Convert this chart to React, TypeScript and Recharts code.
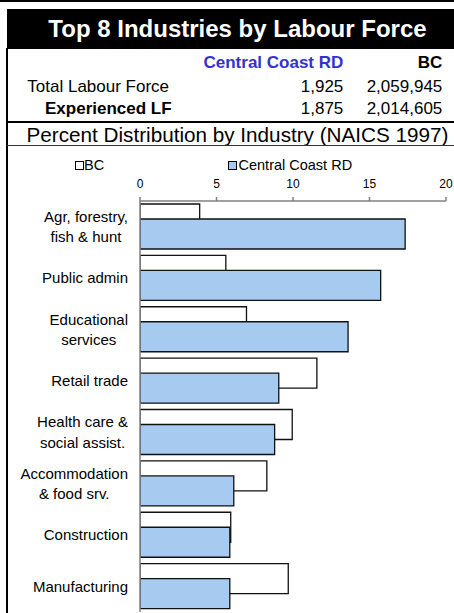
import React from "react";
import { BarChart, Bar, XAxis, YAxis } from "recharts";

const title = "Top 8 Industries by Labour Force";
const subtitle = "Percent Distribution by Industry (NAICS 1997)";
const regionNames = ["Central Coast RD", "BC"];
const rowLabels = ["Total Labour Force", "Experienced LF"];
const centralCoastTotals = ["1,925", "1,875"];
const bcTotals = ["2,059,945", "2,014,605"];

const categories = [
  "Agr, forestry,\nfish & hunt",
  "Public admin",
  "Educational\nservices",
  "Retail trade",
  "Health care &\nsocial assist.",
  "Accommodation\n& food srv.",
  "Construction",
  "Manufacturing",
];
const bcValues = [3.9, 5.61, 6.96, 11.56, 9.95, 8.29, 5.93, 9.69];
const centralCoastValues = [17.33, 15.73, 13.6, 9.07, 8.8, 6.13, 5.87, 5.87];
const xTicks = [0, 5, 10, 15, 20];

const data = categories.map((name, i) => ({
  name,
  bc: bcValues[i],
  cc: centralCoastValues[i],
}));

const FONT = "'Liberation Sans', Arial, Helvetica, sans-serif";
const BLUE = "#A6CAF0";

let measureCtx: CanvasRenderingContext2D | null = null;
function textWidth(t: string, size: number) {
  if (!measureCtx) {
    const c = document.createElement("canvas");
    measureCtx = c.getContext("2d");
  }
  if (!measureCtx) return t.length * size * 0.5;
  measureCtx.font = `${size}px ${FONT}`;
  return measureCtx.measureText(t).width;
}

const CategoryTick = (props: any) => {
  const { x, y, payload } = props;
  const lines = String(payload.value).split("\n");
  const size = 15;
  const lh = 20.5;
  const maxW = Math.max(...lines.map((l) => textWidth(l, size)));
  const cx = x - maxW / 2;
  const start = y - ((lines.length - 1) * lh) / 2;
  return (
    <g>
      {lines.map((l, i) => (
        <text
          key={i}
          x={cx}
          y={start + i * lh}
          dy="0.36em"
          textAnchor="middle"
          fontSize={size}
          fontFamily={FONT}
          fill="#000"
        >
          {l}
        </text>
      ))}
    </g>
  );
};

const abs = (s: React.CSSProperties): React.CSSProperties => ({
  position: "absolute",
  ...s,
});

export default function App() {
  return (
    <div
      style={abs({
        left: 0,
        top: 0,
        width: 454,
        height: 613,
        overflow: "hidden",
        background: "#fff",
        fontFamily: FONT,
        color: "#000",
      })}
    >
      {/* top rule */}
      <div style={abs({ left: 0, top: 0, width: 454, height: 1.5, background: "#000" })} />
      {/* title bar */}
      <div
        style={abs({
          left: 7,
          top: 8.5,
          width: 461,
          height: 40,
          background: "#000",
          color: "#fff",
          fontWeight: "bold",
          fontSize: 24,
          lineHeight: "40px",
          textAlign: "center",
          whiteSpace: "nowrap",
        })}
      >
        {title}
      </div>
      {/* frame left border */}
      <div style={abs({ left: 6, top: 48, width: 1.5, height: 565, background: "#000" })} />
      {/* header table */}
      <div
        style={abs({
          left: 0,
          top: 53,
          width: 343.3,
          textAlign: "right",
          fontSize: 17,
          lineHeight: "20px",
          fontWeight: "bold",
          color: "#3333CC",
          whiteSpace: "nowrap",
        })}
      >
        {regionNames[0]}
      </div>
      <div
        style={abs({
          left: 0,
          top: 53,
          width: 442.3,
          textAlign: "right",
          fontSize: 17,
          lineHeight: "20px",
          fontWeight: "bold",
          whiteSpace: "nowrap",
        })}
      >
        {regionNames[1]}
      </div>
      {rowLabels.map((lab, i) => (
        <React.Fragment key={lab}>
          <div
            style={abs({
              left: i === 0 ? 27.3 : 45,
              top: 76.5 + i * 22.7,
              fontSize: 17,
              lineHeight: "20px",
              fontWeight: i === 0 ? "normal" : "bold",
              whiteSpace: "nowrap",
            })}
          >
            {lab}
          </div>
          <div
            style={abs({
              left: 0,
              top: 76.5 + i * 22.7,
              width: 343.3,
              textAlign: "right",
              fontSize: 17,
              lineHeight: "20px",
              whiteSpace: "nowrap",
            })}
          >
            {centralCoastTotals[i]}
          </div>
          <div
            style={abs({
              left: 0,
              top: 76.5 + i * 22.7,
              width: 442.3,
              textAlign: "right",
              fontSize: 17,
              lineHeight: "20px",
              whiteSpace: "nowrap",
            })}
          >
            {bcTotals[i]}
          </div>
        </React.Fragment>
      ))}
      {/* rule */}
      <div style={abs({ left: 7, top: 121, width: 461, height: 2, background: "#000" })} />
      <div
        style={abs({
          left: 7,
          top: 124,
          width: 461,
          fontSize: 20.7,
          lineHeight: "22px",
          textAlign: "center",
          whiteSpace: "nowrap",
        })}
      >
        {subtitle}
      </div>
      <div style={abs({ left: 7, top: 145, width: 461, height: 1, background: "#333" })} />
      {/* legend */}
      <div
        style={abs({
          left: 74.5,
          top: 160.5,
          width: 7,
          height: 7,
          border: "1.3px solid #000",
          background: "#fff",
        })}
      />
      <div style={abs({ left: 84, top: 156, fontSize: 14.5, lineHeight: "18px", whiteSpace: "nowrap" })}>
        {regionNames[1]}
      </div>
      <div
        style={abs({
          left: 228,
          top: 160.5,
          width: 7,
          height: 7,
          border: "1.3px solid #000",
          background: BLUE,
        })}
      />
      <div style={abs({ left: 238.5, top: 156, fontSize: 14.5, lineHeight: "18px", whiteSpace: "nowrap" })}>
        {regionNames[0]}
      </div>
      {/* chart */}
      <div style={abs({ left: 0, top: 150 })}>
        <BarChart
          width={454}
          height={463}
          data={data}
          layout="vertical"
          margin={{ top: 0, right: 8, bottom: 1, left: 0 }}
          barSize={30}
          barGap={-15}
        >
          <XAxis
            type="number"
            orientation="top"
            domain={[0, 20]}
            ticks={xTicks}
            height={51}
            stroke="#808080"
            strokeWidth={1.5}
            tickSize={4}
            tickMargin={9}
            tick={{ fill: "#000", fontSize: 12, fontFamily: FONT }}
            allowDataOverflow
          />
          <YAxis
            type="category"
            dataKey="name"
            width={140}
            stroke="#808080"
            strokeWidth={1.5}
            tickLine={false}
            tickSize={0}
            tickMargin={12}
            tick={<CategoryTick />}
            interval={0}
          />
          <Bar dataKey="bc" fill="#fff" stroke="#111" strokeWidth={1.3} isAnimationActive={false} />
          <Bar dataKey="cc" fill={BLUE} stroke="#111" strokeWidth={1.3} isAnimationActive={false} />
        </BarChart>
      </div>
    </div>
  );
}
